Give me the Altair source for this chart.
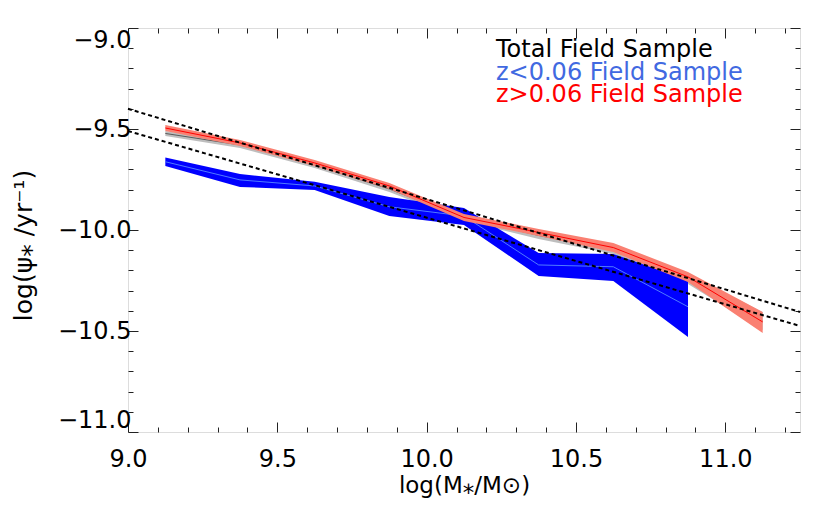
import altair as alt
import pandas as pd

# ---------------- data ----------------
mass = [9.125, 9.375, 9.625, 9.875, 10.125, 10.375, 10.625, 10.875, 11.125]

total_hi = [-9.510, -9.564, -9.663, -9.782, -9.926, -10.010, -10.079, -10.218, -10.406]
total_lo = [-9.535, -9.594, -9.693, -9.812, -9.955, -10.045, -10.119, -10.267, -10.495]
total_mid = [-9.522, -9.579, -9.678, -9.797, -9.940, -10.027, -10.099, -10.242, -10.450]

lowz_mass = [9.125, 9.375, 9.625, 9.875, 10.125, 10.375, 10.625, 10.875]
lowz_hi = [-9.641, -9.723, -9.761, -9.837, -9.891, -10.114, -10.119, -10.248]
lowz_lo = [-9.683, -9.787, -9.802, -9.931, -9.975, -10.228, -10.252, -10.530]
lowz_mid = [-9.662, -9.752, -9.782, -9.885, -9.931, -10.173, -10.182, -10.380]

highz_hi = [-9.480, -9.554, -9.653, -9.767, -9.921, -9.995, -10.064, -10.208, -10.406]
highz_lo = [-9.510, -9.584, -9.683, -9.797, -9.955, -10.030, -10.109, -10.257, -10.510]
highz_mid = [-9.495, -9.569, -9.668, -9.782, -9.938, -10.012, -10.087, -10.232, -10.455]

fit_mass = [9.0, 11.25]
fit_upper = [-9.400, -10.406]
fit_lower = [-9.510, -10.475]

legend_labels = ["Total Field Sample", "z<0.06 Field Sample", "z>0.06 Field Sample"]
legend_colors = ["#000000", "#4169E1", "#FF0000"]

major_x = [9.0, 9.5, 10.0, 10.5, 11.0]
minor_x = [9.1, 9.2, 9.3, 9.4, 9.6, 9.7, 9.8, 9.9, 10.1, 10.2, 10.3, 10.4,
           10.6, 10.7, 10.8, 10.9, 11.1, 11.2]
major_y = [-11.0, -10.5, -10.0, -9.5, -9.0]
minor_y = [-10.9, -10.8, -10.7, -10.6, -10.4, -10.3, -10.2, -10.1,
           -9.9, -9.8, -9.7, -9.6, -9.4, -9.3, -9.2, -9.1]

X_DOMAIN = [9.0, 11.25]
Y_DOMAIN = [-11.0, -9.0]

FONT = "DejaVu Sans"
FRAME = "#222222"

total_df = pd.DataFrame({"m": mass, "lo": total_lo, "hi": total_hi, "mid": total_mid})
lowz_df = pd.DataFrame({"m": lowz_mass, "lo": lowz_lo, "hi": lowz_hi, "mid": lowz_mid})
highz_df = pd.DataFrame({"m": mass, "lo": highz_lo, "hi": highz_hi, "mid": highz_mid})
fit_df = pd.DataFrame({
    "m": fit_mass + fit_mass,
    "v": fit_upper + fit_lower,
    "fit": ["upper"] * 2 + ["lower"] * 2,
})

xs = alt.Scale(domain=X_DOMAIN, nice=False, zero=False)
ys = alt.Scale(domain=Y_DOMAIN, nice=False, zero=False)


def axis(orient, values, size, labels=False, title=None, flush=False, **kw):
    opts = dict(orient=orient, values=values, tickSize={"expr": str(-size)},
                ticks=True, domain=False, grid=False, labels=labels,
                tickColor=FRAME, tickWidth=1, title=title)
    if labels:
        opts.update(format=".1f", labelFont=FONT, labelFontSize=24,
                    labelColor="#000000", labelFlush=flush)
    opts.update(kw)
    return alt.Axis(**opts)


x_bottom_major = axis("bottom", major_x, 10, labels=True,
                      title="log(M\u204e/M\u2299)", labelPadding=25,
                      titleFont=FONT, titleFontSize=23, titleFontWeight="normal",
                      titleColor="#000000", titleY=53, titleBaseline="middle")
y_left_major = axis("left", major_y, 10, labels=True, flush=True,
                    title="log(\u03c8\u204e /yr\u207b\u00b9)", labelPadding=7,
                    titleFont=FONT, titleFontSize=25, titleFontWeight="normal",
                    titleColor="#000000", titleX=-105, titleY=217,
                    titleBaseline="middle", titleAngle=270)
x_bottom_minor = axis("bottom", minor_x, 5)
y_left_minor = axis("left", minor_y, 5)
x_top_major = axis("top", major_x, 10)
y_right_major = axis("right", major_y, 10)
x_top_minor = axis("top", minor_x, 5)
y_right_minor = axis("right", minor_y, 5)


def band(df, color, xa, ya):
    return alt.Chart(df).mark_area(color=color, opacity=1).encode(
        x=alt.X("m:Q", scale=xs, axis=xa),
        y=alt.Y("lo:Q", scale=ys, axis=ya),
        y2="hi:Q",
    )


def centre(df, color, xa, ya):
    return alt.Chart(df).mark_line(color=color, strokeWidth=1).encode(
        x=alt.X("m:Q", scale=xs, axis=xa),
        y=alt.Y("mid:Q", scale=ys, axis=ya),
    )


layers = [
    band(total_df, "#BEBEBE", x_bottom_major, y_left_major),
    centre(total_df, "#5A5A5A", x_bottom_minor, y_left_minor),
    band(lowz_df, "#0000FF", x_top_major, y_right_major),
    centre(lowz_df, "#4F7BFF", x_top_minor, y_right_minor),
    band(highz_df, "#FA8072", None, None),
    centre(highz_df, "#FF0000", None, None),
    alt.Chart(fit_df).mark_line(color="#000000", strokeWidth=2, strokeDash=[4, 3]).encode(
        x=alt.X("m:Q", scale=xs, axis=None),
        y=alt.Y("v:Q", scale=ys, axis=None),
        detail="fit:N",
    ),
]

legend_y = [29, 51.5, 74]
dummy = pd.DataFrame({"a": [0]})
for lab, col, yy in zip(legend_labels, legend_colors, legend_y):
    layers.append(
        alt.Chart(dummy).mark_text(
            font=FONT, fontSize=24, align="left", baseline="alphabetic"
        ).encode(
            x=alt.value(368), y=alt.value(yy),
            text=alt.value(lab), color=alt.value(col),
        )
    )

chart = alt.layer(*layers).resolve_axis(
    x="independent", y="independent"
).properties(
    width=672, height=404,
    autosize=alt.AutoSizeParams(type="none"),
    padding={"left": 120, "top": 20, "right": 20, "bottom": 74},
).configure_view(
    stroke=FRAME, strokeWidth=1.3
).configure(background="#ffffff")

chart.save("out.html", embed_options={"renderer": "svg", "actions": False})
